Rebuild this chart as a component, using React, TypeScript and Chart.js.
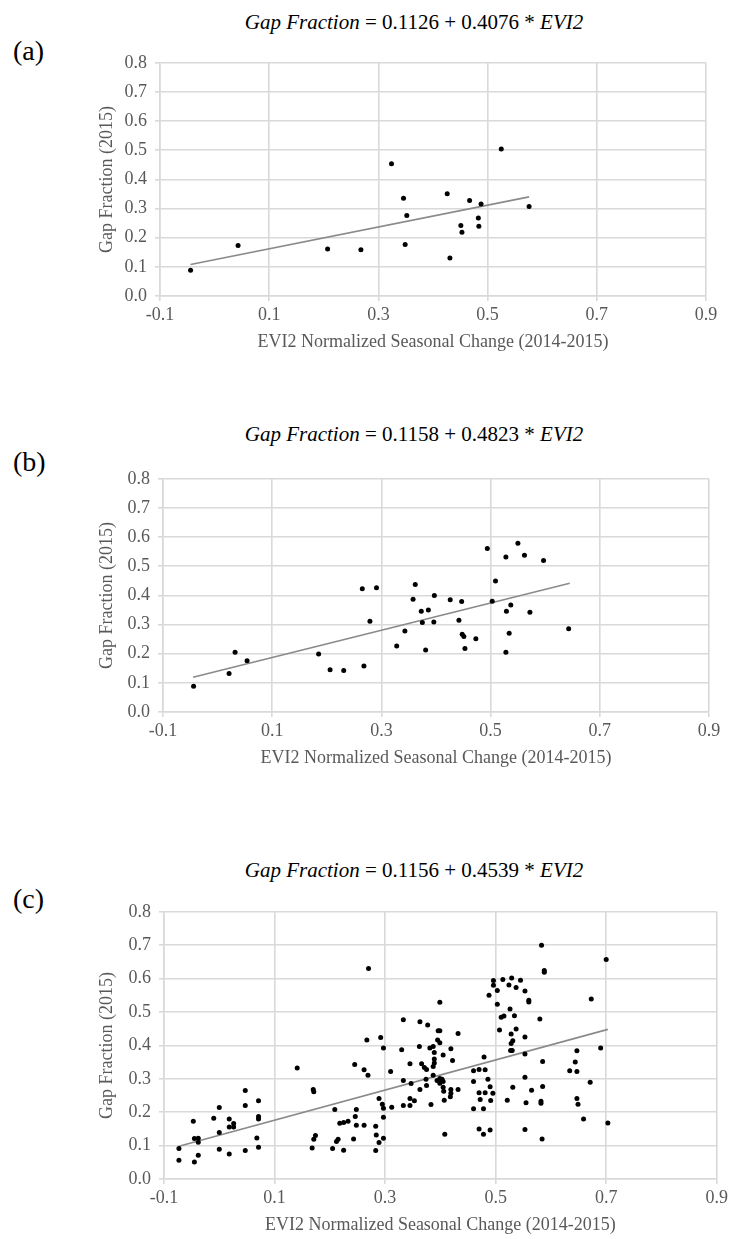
import React, { useEffect, useRef } from "react";
import { Chart, registerables } from "chart.js";

Chart.register(...registerables);

// ---------- Data ----------
const xTickLabels = ["-0.1", "0.1", "0.3", "0.5", "0.7", "0.9"];
const yTickLabels = ["0.0", "0.1", "0.2", "0.3", "0.4", "0.5", "0.6", "0.7", "0.8"];

// Panel (a)
const aX = [-0.044, 0.043, 0.207, 0.268, 0.324, 0.346, 0.352, 0.349, 0.426, 0.431, 0.451, 0.453, 0.467, 0.488, 0.483, 0.484, 0.525, 0.576];
const aY = [0.088, 0.173, 0.161, 0.159, 0.454, 0.335, 0.276, 0.177, 0.351, 0.130, 0.242, 0.219, 0.328, 0.316, 0.268, 0.239, 0.504, 0.307];
const aTrendX = [-0.044, 0.576];
const aTrendY = [0.108, 0.340];

// Panel (b)
const bX = [-0.044, 0.021, 0.032, 0.054, 0.185, 0.206, 0.231, 0.268, 0.265, 0.279, 0.291, 0.328, 0.343, 0.362, 0.358, 0.373, 0.386, 0.375, 0.381, 0.397, 0.396,
  0.426, 0.447, 0.442, 0.448, 0.451, 0.453, 0.473, 0.494, 0.503, 0.509, 0.528, 0.529, 0.537, 0.534, 0.528, 0.550, 0.562, 0.572, 0.597, 0.643];
const bY = [0.088, 0.132, 0.205, 0.176, 0.199, 0.145, 0.142, 0.158, 0.423, 0.311, 0.426, 0.226, 0.278, 0.437, 0.387, 0.346, 0.350, 0.307, 0.213, 0.400, 0.309,
  0.385, 0.379, 0.315, 0.267, 0.259, 0.218, 0.251, 0.561, 0.380, 0.449, 0.532, 0.346, 0.367, 0.270, 0.205, 0.579, 0.538, 0.342, 0.520, 0.286];
const bTrendX = [-0.045, 0.645];
const bTrendY = [0.119, 0.442];

// Panel (c)
const cX = [
  -0.073, -0.073, -0.047, -0.045, -0.038, -0.038, -0.038, -0.045, -0.010, 0.000, 0.000, 0.000, 0.018, 0.018, 0.026, 0.026, 0.018, 0.047, 0.047, 0.047, 0.071, 0.071, 0.071, 0.068, 0.071,
  0.141, 0.170, 0.171, 0.174, 0.171, 0.168, 0.209, 0.218, 0.225, 0.233, 0.215, 0.212, 0.205, 0.225, 0.245, 0.262, 0.269, 0.267, 0.270, 0.248, 0.246, 0.248, 0.262, 0.243,
  0.283, 0.283, 0.284, 0.289, 0.297, 0.289, 0.295, 0.297, 0.297, 0.292, 0.297, 0.310, 0.312, 0.333, 0.330, 0.333, 0.333, 0.345, 0.347, 0.345, 0.345, 0.353,
  0.363, 0.362, 0.366, 0.371, 0.375, 0.363, 0.374, 0.375, 0.383, 0.377, 0.381, 0.387, 0.389, 0.389, 0.389, 0.387, 0.387, 0.394, 0.396, 0.395,
  0.399, 0.399, 0.399, 0.405, 0.399, 0.403, 0.405, 0.399, 0.405, 0.406, 0.407, 0.408, 0.419, 0.422, 0.419, 0.419, 0.418, 0.432, 0.432,
  0.460, 0.460, 0.470, 0.470, 0.479, 0.481, 0.486, 0.490, 0.481, 0.491, 0.495, 0.472, 0.460, 0.478, 0.470, 0.478, 0.490, 0.488, 0.496, 0.496,
  0.513, 0.503, 0.503, 0.510, 0.515, 0.507, 0.524, 0.529, 0.537, 0.545, 0.553, 0.560, 0.560, 0.526, 0.534, 0.528, 0.537, 0.531, 0.528, 0.527, 0.530,
  0.553, 0.553, 0.580, 0.583, 0.588, 0.588, 0.585, 0.553, 0.531, 0.565, 0.585, 0.521, 0.555, 0.582, 0.582, 0.553, 0.584,
  0.700, 0.673, 0.690, 0.647, 0.644, 0.634, 0.647, 0.671, 0.647, 0.649, 0.659, 0.703,
];
const cY = [
  0.091, 0.056, 0.173, 0.121, 0.122, 0.110, 0.071, 0.051, 0.182, 0.214, 0.139, 0.089, 0.180, 0.156, 0.166, 0.156, 0.075, 0.265, 0.220, 0.085, 0.234, 0.187, 0.180, 0.123, 0.095,
  0.332, 0.268, 0.261, 0.130, 0.119, 0.093, 0.208, 0.167, 0.169, 0.173, 0.119, 0.112, 0.091, 0.086, 0.343, 0.327, 0.311, 0.416, 0.630, 0.208, 0.187, 0.161, 0.161, 0.120,
  0.158, 0.085, 0.132, 0.109, 0.122, 0.241, 0.224, 0.212, 0.185, 0.424, 0.392, 0.322, 0.215, 0.477, 0.387, 0.295, 0.220, 0.345, 0.286, 0.241, 0.220, 0.234,
  0.471, 0.397, 0.345, 0.334, 0.328, 0.268, 0.299, 0.280, 0.223, 0.461, 0.392, 0.397, 0.379, 0.359, 0.347, 0.337, 0.311, 0.295, 0.444, 0.416,
  0.529, 0.444, 0.408, 0.371, 0.301, 0.299, 0.292, 0.287, 0.275, 0.263, 0.236, 0.134, 0.390, 0.355, 0.268, 0.257, 0.246, 0.436, 0.268,
  0.324, 0.292, 0.328, 0.258, 0.365, 0.327, 0.299, 0.276, 0.258, 0.235, 0.257, 0.238, 0.210, 0.210, 0.150, 0.134, 0.147, 0.550, 0.580, 0.594,
  0.597, 0.564, 0.523, 0.484, 0.488, 0.446, 0.581, 0.602, 0.573, 0.595, 0.563, 0.535, 0.530, 0.509, 0.489, 0.434, 0.449, 0.414, 0.406, 0.385, 0.385,
  0.425, 0.374, 0.479, 0.700, 0.624, 0.619, 0.352, 0.305, 0.275, 0.266, 0.277, 0.236, 0.228, 0.233, 0.227, 0.148, 0.120,
  0.657, 0.539, 0.392, 0.384, 0.350, 0.324, 0.322, 0.290, 0.241, 0.224, 0.180, 0.168,
];
const cTrendX = [-0.073, 0.703];
const cTrendY = [0.098, 0.448];

const panelLabels = ["(a)", "(b)", "(c)"];
const intercepts = ["0.1126", "0.1158", "0.1156"];
const slopes = ["0.4076", "0.4823", "0.4539"];

// ---------- Layout ----------
type Geo = { left: number; right: number; top: number; bottom: number; titleY: number; labelY: number };
const geos: Geo[] = [
  { left: 160, right: 706, top: 56, bottom: 296, titleY: 22, labelY: 51 },
  { left: 163, right: 709, top: 472, bottom: 712, titleY: 434, labelY: 462 },
  { left: 164, right: 718, top: 905, bottom: 1179, titleY: 870, labelY: 899 },
];

const SERIF = "'Liberation Serif', 'Times New Roman', serif";
const GRID = "#d9d9d9";
const TEXT_GRAY = "#595959";
const TITLE_CENTER_X = 414;

function toPts(xs: number[], ys: number[]) {
  return xs.map((x, i) => ({ x, y: ys[i] }));
}

const PAD_TOP = 12;
const PAD_LEFT = 96;
const X_AXIS_H = 57;

function Panel({ idx, xs, ys, tx, ty }: { idx: number; xs: number[]; ys: number[]; tx: number[]; ty: number[] }) {
  const ref = useRef<HTMLCanvasElement>(null);
  const g = geos[idx];
  const canvasTop = g.top - PAD_TOP;
  const canvasH = g.bottom - g.top + PAD_TOP + X_AXIS_H;

  useEffect(() => {
    if (!ref.current) return;
    const chart = new Chart(ref.current, {
      type: "scatter",
      data: {
        datasets: [
          {
            type: "line",
            data: toPts(tx, ty),
            borderColor: "#8a8a8a",
            borderWidth: 1.6,
            pointRadius: 0,
            showLine: true,
            fill: false,
            order: 2,
          } as any,
          {
            type: "scatter",
            data: toPts(xs, ys),
            backgroundColor: "#000000",
            borderWidth: 0,
            pointRadius: 2.5,
            order: 1,
          },
        ],
      },
      options: {
        responsive: false,
        animation: false,
        events: [],
        layout: { padding: { top: PAD_TOP, left: PAD_LEFT, right: 731 - g.right, bottom: 0 } },
        plugins: { legend: { display: false }, tooltip: { enabled: false }, title: { display: false } },
        scales: {
          x: {
            type: "linear",
            min: -0.1,
            max: 0.9,
            afterFit: (s: any) => { s.height = X_AXIS_H; },
            afterBuildTicks: (s: any) => {
              s.ticks = xTickLabels.map((t) => ({ value: parseFloat(t) }));
            },
            ticks: {
              callback: (v: any) => Number(v).toFixed(1),
              font: { family: SERIF, size: 18 },
              color: TEXT_GRAY,
              padding: 3,
              maxRotation: 0,
            },
            grid: { color: GRID, lineWidth: 1.6, tickLength: 5, tickColor: GRID },
            border: { color: GRID, width: 1.6 },
            title: {
              display: true,
              text: "EVI2 Normalized Seasonal Change (2014-2015)",
              font: { family: SERIF, size: 18 },
              color: TEXT_GRAY,
              padding: { top: 0, bottom: 0 },
            },
          },
          y: {
            type: "linear",
            min: 0,
            max: 0.8,
            afterFit: (s: any) => { s.width = g.left - PAD_LEFT; },
            afterBuildTicks: (s: any) => {
              s.ticks = yTickLabels.map((t) => ({ value: parseFloat(t) }));
            },
            ticks: {
              callback: (v: any) => Number(v).toFixed(1),
              font: { family: SERIF, size: 18 },
              color: TEXT_GRAY,
              padding: 8,
            },
            grid: { color: GRID, lineWidth: 1.6, tickLength: 5, tickColor: GRID },
            border: { color: GRID, width: 1.6 },
            title: {
              display: true,
              text: "Gap Fraction (2015)",
              font: { family: SERIF, size: 18 },
              color: TEXT_GRAY,
              padding: { top: 0, bottom: 0 },
            },
          },
        },
      },
    });
    return () => chart.destroy();
  }, []);

  return (
    <>
      <div
        style={{
          position: "absolute",
          left: TITLE_CENTER_X - 300,
          width: 600,
          top: g.titleY - 13,
          height: 26,
          lineHeight: "26px",
          textAlign: "center",
          fontFamily: SERIF,
          fontSize: 21,
          color: "#000",
          whiteSpace: "nowrap",
        }}
      >
        <i>Gap Fraction</i> = {intercepts[idx]} + {slopes[idx]} * <i>EVI2</i>
      </div>
      <div
        style={{
          position: "absolute",
          left: 13,
          top: g.labelY - 17,
          height: 34,
          lineHeight: "34px",
          fontFamily: SERIF,
          fontSize: 28,
          color: "#000",
        }}
      >
        {panelLabels[idx]}
      </div>
      <canvas
        ref={ref}
        width={731}
        height={canvasH}
        style={{ position: "absolute", left: 0, top: canvasTop, width: 731, height: canvasH }}
      />
    </>
  );
}

export default function App() {
  return (
    <div style={{ position: "absolute", left: 0, top: 0, width: 731, height: 1239, background: "#fff", overflow: "hidden" }}>
      <Panel idx={0} xs={aX} ys={aY} tx={aTrendX} ty={aTrendY} />
      <Panel idx={1} xs={bX} ys={bY} tx={bTrendX} ty={bTrendY} />
      <Panel idx={2} xs={cX} ys={cY} tx={cTrendX} ty={cTrendY} />
    </div>
  );
}
